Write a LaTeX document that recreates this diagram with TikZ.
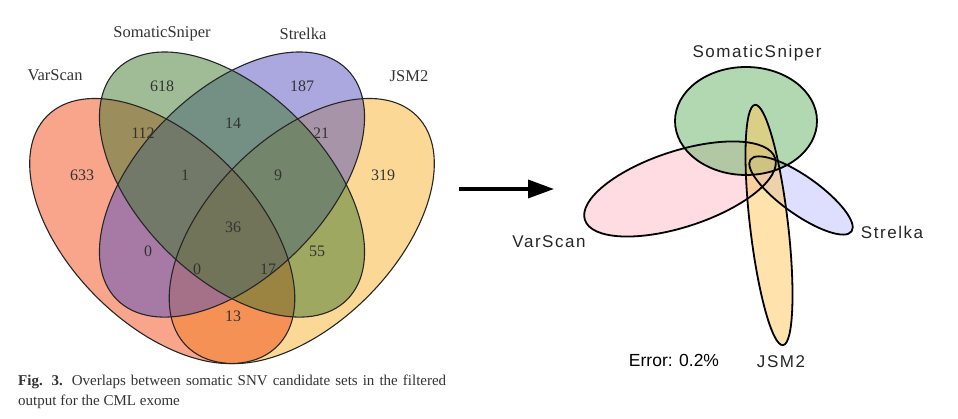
\documentclass[tikz,border=0pt]{standalone}
\usepackage{fontspec}
\usepackage{tikz}
\usetikzlibrary{arrows.meta}
\setmainfont{Liberation Serif}
\newfontfamily\eulerfont[LetterSpace=9]{Liberation Sans}
\newfontfamily\errorfont{Liberation Sans}

\definecolor{vennred}{RGB}{241,75,25}
\definecolor{venngreen}{RGB}{65,121,45}
\definecolor{vennblue}{RGB}{85,81,189}
\definecolor{vennyellow}{RGB}{249,177,45}
\definecolor{eulerpink}{RGB}{255,185,195}
\definecolor{eulergreen}{RGB}{102,178,102}
\definecolor{eulerblue}{RGB}{190,190,255}
\definecolor{euleryellow}{RGB}{255,198,90}

\begin{document}
\begin{tikzpicture}[x=1pt,y=1pt,
	vennline/.style={draw=black!85, line width=1.1pt},
	eulerline/.style={draw=black, line width=1.8pt},
	count/.style={font=\fontsize{16}{16}\selectfont, text=black!80, inner sep=0pt},
	vennlabel/.style={font=\fontsize{16.5}{16.5}\selectfont, text=black!80, inner sep=0pt},
	eulerlabel/.style={font=\eulerfont\fontsize{17}{17}\selectfont, text=black!85, inner sep=0pt}]
	\useasboundingbox (0,0) rectangle (958,419);

	% four-set Venn diagram (yellow, red, blue, green from bottom to top)
	\foreach \cx/\cy/\ang/\col in {301.75/187.95/45/vennyellow, 162.25/187.95/-45/vennred, 232/234.45/45/vennblue, 232/234.45/-45/venngreen}
		\fill[\col, fill opacity=0.5, rotate around={\ang:(\cx,\cy)}] (\cx,\cy) ellipse [x radius=162.75pt, y radius=93pt];
	\foreach \cx/\cy/\ang in {162.25/187.95/-45, 232/234.45/-45, 232/234.45/45, 301.75/187.95/45}
		\draw[vennline, rotate around={\ang:(\cx,\cy)}] (\cx,\cy) ellipse [x radius=162.75pt, y radius=93pt];

	\node[vennlabel] (vsname) at (55,344) {VarScan};
	\node[vennlabel] (ssname) at (162,385) {SomaticSniper};
	\node[vennlabel] (stname) at (303,385) {Strelka};
	\node[vennlabel] (jsname) at (409,343) {JSM2};

	\node[count] (c618) at (162,333) {618};
	\node[count] (c187) at (302,333) {187};
	\node[count] (c112) at (143,286) {112};
	\node[count] (c14) at (233,296) {14};
	\node[count] (c21) at (321,286) {21};
	\node[count] (c633) at (82,244) {633};
	\node[count] (c1) at (185,244) {1};
	\node[count] (c9) at (278,244) {9};
	\node[count] (c319) at (383,244) {319};
	\node[count] (c36) at (233,192) {36};
	\node[count] (c0a) at (148,168) {0};
	\node[count] (c55) at (317,168) {55};
	\node[count] (c0b) at (197,150) {0};
	\node[count] (c17) at (268,150) {17};
	\node[count] (c13) at (233,103) {13};

	\node[anchor=north west, inner sep=0pt, text width=428pt, align=justify,
		font=\fontsize{15}{19.3}\selectfont, text=black!80] (caption) at (18,44)
		{\textbf{Fig. 3.} Overlaps between somatic SNV candidate sets in the filtered\linebreak output for the CML exome};

	% arrow
	\coordinate (arrowtail) at (459,230);
	\coordinate (arrowtip) at (554,230);
	\draw[line width=3.5pt, -{Triangle[length=26pt,width=18pt]}] (arrowtail) -- (arrowtip);

	% area-proportional Euler diagram (pink, blue, green, yellow from bottom to top)
	\foreach \cx/\cy/\rx/\ry/\ang/\col in {680/230/100/38/18/eulerpink, 801/223.5/62/19/-35.4/eulerblue, 746/298/71/54/0/eulergreen, 769/194/19/121/6.65/euleryellow}
		\fill[\col, fill opacity=0.5, rotate around={\ang:(\cx,\cy)}] (\cx,\cy) ellipse [x radius=\rx pt, y radius=\ry pt];
	\foreach \cx/\cy/\rx/\ry/\ang in {746/298/71/54/0, 680/230/100/38/18, 801/223.5/62/19/-35.4, 769/194/19/121/6.65}
		\draw[eulerline, rotate around={\ang:(\cx,\cy)}] (\cx,\cy) ellipse [x radius=\rx pt, y radius=\ry pt];

	\node[eulerlabel] (ssset) at (757,366) {SomaticSniper};
	\node[eulerlabel] (vsset) at (549,177) {VarScan};
	\node[eulerlabel] (stset) at (892,187) {Strelka};
	\node[eulerlabel] (jsset) at (781,57) {JSM2};
	\node[font=\errorfont\fontsize{17.5}{17.5}\selectfont, inner sep=0pt] (error) at (674,59) {Error: 0.2\%};
\end{tikzpicture}
\end{document}
